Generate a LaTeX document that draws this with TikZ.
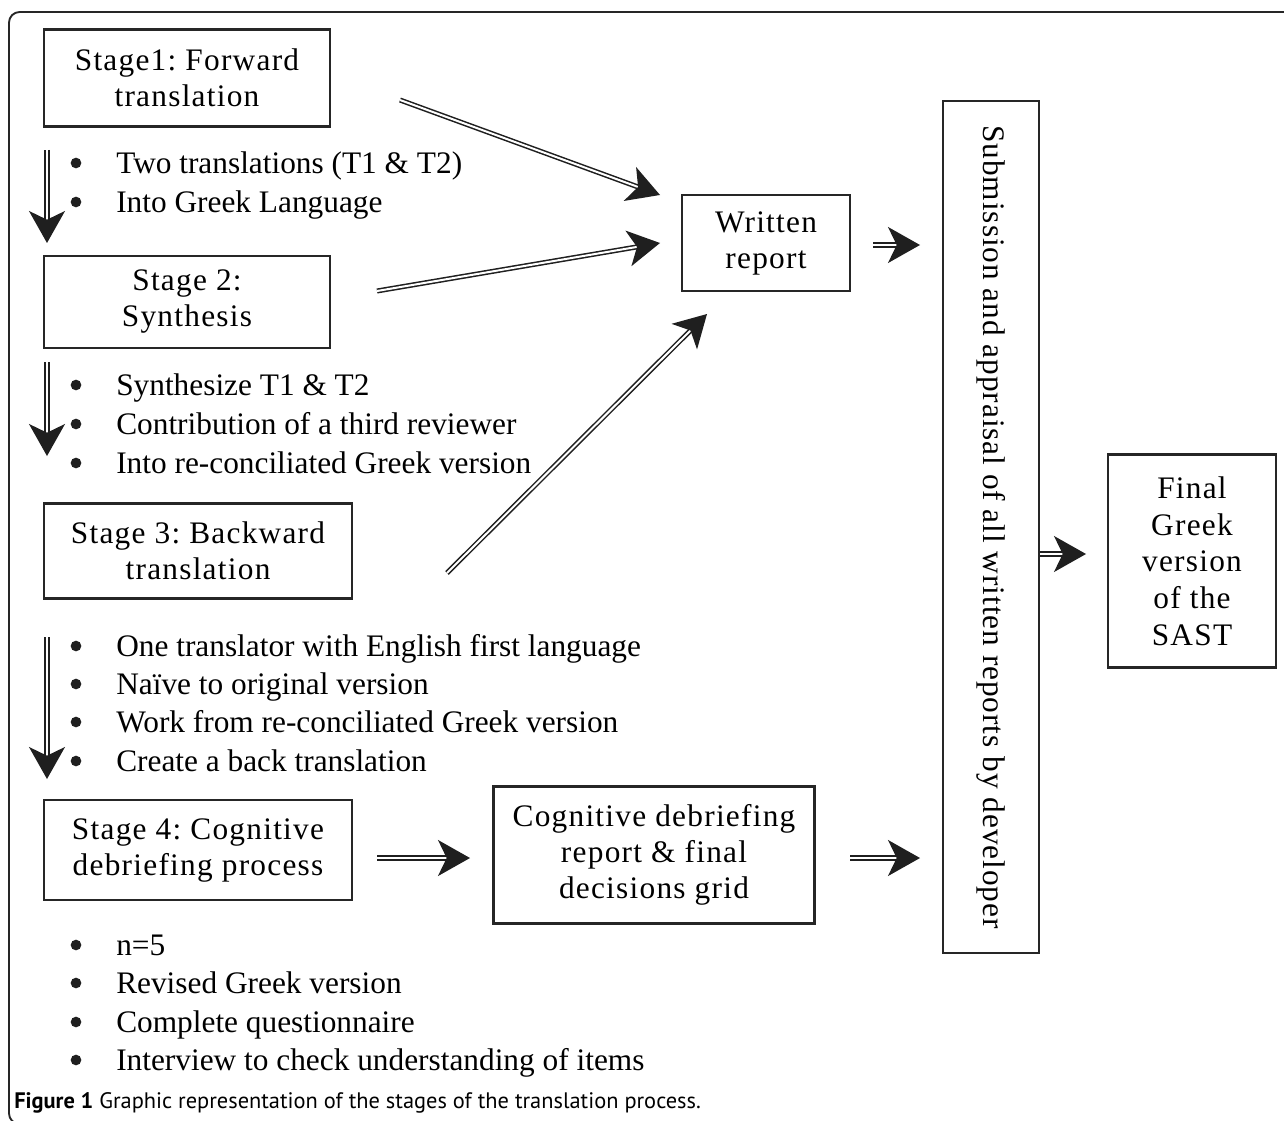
\documentclass[tikz,border=0pt]{standalone}
\usepackage{fontspec}
\setmainfont{Liberation Serif}
\newfontfamily\capfont{PT Sans}
\newfontfamily\boxfont[LetterSpace=4]{Liberation Serif}
\newfontfamily\subfont[LetterSpace=3]{Liberation Serif}
\usetikzlibrary{arrows.meta,calc}
\begin{document}
\frenchspacing
\begin{tikzpicture}[x=0.75pt,y=-0.75pt,
  box/.style={draw=black!85, line width=2.2pt, inner sep=0pt, align=center,
    font=\boxfont\fontsize{23.5}{27}\selectfont},
  txt/.style={inner sep=0pt, anchor=base west, font=\fontsize{23.5}{29}\selectfont},
  bul/.style={circle, fill=black!88, inner sep=0pt, minimum size=8pt},
  conn/.style={draw=black!88, double, double distance=1.5pt, line width=1.15pt,
    -{Stealth[length=24pt,width=27pt,inset=6.5pt]}},
]
\useasboundingbox (0,0) rectangle (1284,1120);
% frame
\draw[black!85, line width=1.4pt, rounded corners=8pt] (1300,12) -- (9,12) -- (9,1124) -- (40,1124);

% boxes
\node[box, minimum width=286*0.75pt, minimum height=97*0.75pt] (s1) at (187,78) {Stage1: Forward\\translation};
\node[box, minimum width=286*0.75pt, minimum height=92*0.75pt] (s2) at (187,302) {Stage 2:\\Synthesis};
\node[box, minimum width=308*0.75pt, minimum height=95*0.75pt] (s3) at (198,551) {Stage 3: Backward\\translation};
\node[box, minimum width=308*0.75pt, minimum height=100*0.75pt] (s4) at (198,850) {Stage 4: Cognitive\\debriefing process};
\node[box, minimum width=168*0.75pt, minimum height=96*0.75pt] (wr) at (766,243) {Written\\report};
\node[box, minimum width=321*0.75pt, minimum height=137*0.75pt] (cg) at (654,855) {Cognitive debriefing\\report \& final\\decisions grid};
\node[box, minimum width=96*0.75pt, minimum height=852*0.75pt] (sub) at (991,527) {};
\node[inner sep=0pt, rotate=-90, font=\subfont\fontsize{23.5}{27}\selectfont] (subt) at (sub.center) {Submission and appraisal of all written reports by developer};
\node[box, minimum width=168*0.75pt, minimum height=213*0.75pt, font=\boxfont\fontsize{23.5}{27.5}\selectfont] (fin) at (1192,561) {Final\\Greek\\version\\of the\\SAST};

% bullet lists
\foreach \y/\t [count=\i] in {173/{Two translations (T1 \& T2)}, 212/{Into Greek Language},
  395/{Synthesize T1 \& T2}, 434/{Contribution of a third reviewer}, 473/{Into re-conciliated Greek version},
  656/{One translator with English first language}, 694/{Naïve to original version}, 732/{Work from re-conciliated Greek version}, 771/{Create a back translation},
  955/{n=5}, 993/{Revised Greek version}, 1032/{Complete questionnaire}, 1070/{Interview to check understanding of items}}{
  \node[bul] (bu\i) at (76,\y-10) {};
  \node[txt] (li\i) at (116,\y) {\t};
}

% arrow end points
\coordinate (d1a) at (47,150); \coordinate (d1b) at (47,243);
\coordinate (d2a) at (47,362); \coordinate (d2b) at (47,456);
\coordinate (d3a) at (47,637); \coordinate (d3b) at (47,779);
\coordinate (a1a) at (400,100); \coordinate (a1b) at (660,195);
\coordinate (a2a) at (377,291); \coordinate (a2b) at (660,243);
\coordinate (a3a) at (447,573); \coordinate (a3b) at (707,314);
\coordinate (a4a) at (873,245); \coordinate (a4b) at (920,245);
\coordinate (a5a) at (1040,554); \coordinate (a5b) at (1086,554);
\coordinate (a6a) at (377,858); \coordinate (a6b) at (470,858);
\coordinate (a7a) at (850,858); \coordinate (a7b) at (920,858);
\foreach \n in {d1,d2,d3,a1,a2,a3,a4,a5,a6,a7}{
  \draw[conn] (\n a) -- (\n b);
}

% caption
\node[inner sep=0pt, anchor=base west, font=\capfont\fontsize{16.8}{20}\selectfont] (cap) at (14,1108)
  {\textbf{Figure 1} Graphic representation of the stages of the translation process.};
\end{tikzpicture}
\end{document}
